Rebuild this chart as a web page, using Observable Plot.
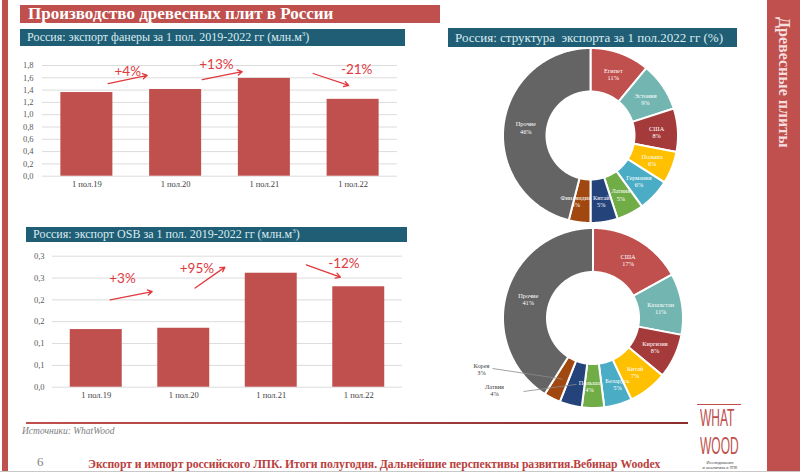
<!DOCTYPE html>
<html><head><meta charset="utf-8">
<script src="https://cdn.jsdelivr.net/npm/d3@7"></script>
<script src="https://cdn.jsdelivr.net/npm/@observablehq/plot@0.6"></script>
<style>
html,body{margin:0;padding:0;background:#fff;}
#slide{position:relative;width:800px;height:475px;overflow:hidden;background:#fff;font-family:"Liberation Serif",serif;}
.abs{position:absolute;}
.bar-red{background:#c0504d;color:#fff;font-weight:bold;font-size:17px;line-height:18px;white-space:nowrap;box-sizing:border-box;padding-left:8px;}
.bar-teal{background:#1f5e74;color:#dcecf2;font-size:12px;white-space:nowrap;box-sizing:border-box;padding-left:7px;}
.logo{font-family:'Liberation Sans',sans-serif;font-size:24px;line-height:24px;height:24px;color:#c0504d;transform:scaleX(0.5);transform-origin:left top;white-space:nowrap;}
svg{display:block;overflow:visible;}
</style></head>
<body><div id="slide">
  <div class="abs" style="left:2px;top:0;width:6px;height:471px;background:#c0504d"></div>
  <div class="abs" style="left:767px;top:0;width:33px;height:471px;background:#c0504d"></div>
  <div class="abs" style="left:775px;top:17px;writing-mode:vertical-rl;font-weight:bold;font-size:16px;color:#f4dede;white-space:nowrap;">Древесные плиты</div>
  <div class="abs" style="left:0;top:471px;width:800px;height:1px;background:#c8c8c8"></div>

  <div class="abs bar-red" style="left:20px;top:5px;width:420px;height:18px;">Производство древесных плит в России</div>
  <div class="abs bar-teal" style="left:20px;top:29px;width:385px;height:17px;line-height:17px;">Россия: экспорт фанеры за 1 пол. 2019-2022 гг (млн.м<sup style="font-size:7px;vertical-align:5px;line-height:0">3</sup>)</div>
  <div class="abs bar-teal" style="left:26px;top:227px;width:381px;height:15px;line-height:15px;">Россия: экспорт OSB за 1 пол. 2019-2022 гг (млн.м<sup style="font-size:7px;vertical-align:5px;line-height:0">3</sup>)</div>
  <div class="abs bar-teal" style="left:448px;top:28px;width:289px;height:19px;line-height:19px;font-size:13px;">Россия: структура&nbsp; экспорта за 1 пол.2022 гг (%)</div>

  <div id="ply" class="abs" style="left:0;top:50px;"></div>
  <div id="osb" class="abs" style="left:0;top:245px;"></div>
  <div id="pie1" class="abs" style="left:500px;top:46px;"></div>
  <div id="pie2" class="abs" style="left:440px;top:225px;"></div>

  <div class="abs" style="left:26px;top:422px;width:662px;height:2px;background:linear-gradient(to right,#c0504d,#8a2e2e)"></div>
  <div class="abs" style="left:22px;top:426px;font-style:italic;font-size:9.5px;color:#808080;">Источники: WhatWood</div>
  <div class="abs" style="left:37px;top:454px;font-size:13px;color:#7f7f7f;">6</div>
  <div class="abs" style="left:88px;top:458px;font-size:11.7px;font-weight:bold;color:#b9403d;white-space:nowrap;letter-spacing:-0.05px;">Экспорт и импорт российского ЛПК. Итоги полугодия. Дальнейшие перспективы развития.Вебинар Woodex</div>

  <div class="abs" style="left:697px;top:404px;width:44px;height:1px;background:#c0504d"></div>
  <div class="abs logo" style="left:700px;top:406px;">WHAT</div>
  <div class="abs logo" style="left:700px;top:434px;">WOOD</div>
  <div class="abs" style="left:699px;top:461px;font-family:'Liberation Sans',sans-serif;font-size:4px;line-height:4.5px;color:#444;text-align:center;width:42px;">Исследования<br>и аналитика в ЛПК</div>
</div>
<script>
// ---- data ----
const periods = ["1 пол.19", "1 пол.20", "1 пол.21", "1 пол.22"];
const plywoodExport = [1.36, 1.41, 1.59, 1.25];
const osbExport = [0.132, 0.135, 0.261, 0.230];
const plyTicks = [0, 0.2, 0.4, 0.6, 0.8, 1.0, 1.2, 1.4, 1.6, 1.8];
const plyTickLabels = ["0,0", "0,2", "0,4", "0,6", "0,8", "1,0", "1,2", "1,4", "1,6", "1,8"];
const osbTicks = [0, 0.05, 0.1, 0.15, 0.2, 0.25, 0.3];
const osbTickLabels = ["0,0", "0,1", "0,1", "0,2", "0,2", "0,3", "0,3"];
const plyChanges = ["+4%", "+13%", "-21%"];
const osbChanges = ["+3%", "+95%", "-12%"];
// annotation placement (data space: x = bar index, y = value)
const plyNotes = [
  {tx: 0.46, ty: 1.70, x1: 0.24, y1: 1.507, x2: 0.68, y2: 1.64},
  {tx: 1.46, ty: 1.82, x1: 1.30, y1: 1.57, x2: 1.75, y2: 1.70},
  {tx: 3.04, ty: 1.735, x1: 2.55, y1: 1.67, x2: 2.95, y2: 1.475}
];
const osbNotes = [
  {tx: 0.30, ty: 0.249, x1: 0.16, y1: 0.200, x2: 0.64, y2: 0.219},
  {tx: 1.15, ty: 0.272, x1: 1.13, y1: 0.227, x2: 1.47, y2: 0.275},
  {tx: 2.83, ty: 0.283, x1: 2.40, y1: 0.280, x2: 2.79, y2: 0.252}
];

const exportCountries = ["Египет", "Эстония", "США", "Польша", "Германия", "Латвия", "Китай", "Финляндия", "Прочие"];
const exportShares = [11, 9, 8, 6, 6, 5, 5, 4, 46];
const osbCountries = ["США", "Казахстан", "Киргизия", "Китай", "Беларусь", "Польша", "Латвия", "Корея", "Прочие"];
const osbShares = [17, 11, 8, 7, 5, 4, 4, 3, 41];
const palette = ["#c0504d", "#72b5b1", "#a53a3b", "#ffc000", "#4bacc6", "#70ad47", "#24437a", "#a0480f", "#646464"];
const osbOutside = [
  {name: "Корея", lx: -112, ly: -51, sx: -101, sy: -50},
  {name: "Латвия", lx: -99, ly: -72, sx: -70, sy: -73}
];
// small horizontal nudges so neighbouring slice labels do not collide
const exportNudge = {"Финляндия": -7};
const osbNudge = {"Польша": -4, "Беларусь": 5};

const RED = "#e0393e";
const serif = "Liberation Serif";

function barChart(el, values, ticks, tickLabels, changes, notes, opts) {
  const rows = values.map((v, i) => ({i, v, label: periods[i]}));
  const hw = opts.halfWidth;
  const chart = Plot.plot({
    width: opts.width, height: opts.height,
    marginLeft: opts.ml, marginRight: opts.mr, marginTop: opts.mt, marginBottom: opts.mb,
    style: {background: "transparent", fontFamily: serif, overflow: "visible"},
    x: {domain: [-0.5, 3.5], axis: null},
    y: {domain: opts.yDomain, axis: null},
    marks: [
      Plot.ruleY(ticks, {stroke: "#dcdcdc", strokeWidth: 1}),
      Plot.rectY(rows, {x1: d => d.i - hw, x2: d => d.i + hw, y1: 0, y2: "v", fill: "#c0504d"}),
      Plot.axisY({ticks, tickFormat: d => tickLabels[ticks.indexOf(d)], tickSize: 0, tickPadding: opts.tp, fontSize: 8.5, fill: "#595959", label: null}),
      Plot.axisX({ticks: [0, 1, 2, 3], tickFormat: d => periods[d], tickSize: 0, tickPadding: 5, fontSize: 8.5, fill: "#404040", label: null}),
      Plot.arrow(notes, {x1: "x1", y1: "y1", x2: "x2", y2: "y2", stroke: RED, strokeWidth: 1.3, headLength: 6}),
      Plot.text(notes, {x: "tx", y: "ty", text: (d, i) => changes[i], fill: RED, fontSize: 13.5, fontFamily: "Lato"})
    ]
  });
  document.getElementById(el).appendChild(chart);
}

barChart("ply", plywoodExport, plyTicks, plyTickLabels, plyChanges, plyNotes,
  {width: 410, height: 145, ml: 42, mr: 13, mt: 15, mb: 19.3, tp: 9, yDomain: [0, 1.8], halfWidth: 0.293});
barChart("osb", osbExport, osbTicks, osbTickLabels, osbChanges, osbNotes,
  {width: 415, height: 165, ml: 52, mr: 13, mt: 10.7, mb: 23.3, tp: 8, yDomain: [0, 0.3], halfWidth: 0.297});

function donut(el, names, shares, R, r, xDomain, yDomain, w, h, outside, nudge) {
  const pie = d3.pie().sort(null).value(d => d)(shares);
  const pts = [];
  const labels = [];
  pie.forEach((p, i) => {
    const n = Math.max(2, Math.ceil((p.endAngle - p.startAngle) / 0.01));
    for (let k = 0; k <= n; ++k) {
      const a = p.startAngle + (p.endAngle - p.startAngle) * k / n;
      pts.push({name: names[i], xo: R * Math.sin(a), yo: R * Math.cos(a), xi: r * Math.sin(a), yi: r * Math.cos(a)});
    }
    const m = (p.startAngle + p.endAngle) / 2, rm = (R + r) / 2;
    labels.push({name: names[i], share: shares[i], x: rm * Math.sin(m), y: rm * Math.cos(m), dx: nudge[names[i]] || 0});
  });
  const outNames = outside.map(d => d.name);
  const inside = labels.filter(d => !outNames.includes(d.name));
  const outs = outside.map(o => ({...o, ...labels.find(l => l.name === o.name)}));
  const chart = Plot.plot({
    width: w, height: h, margin: 0,
    style: {background: "transparent", fontFamily: serif, overflow: "visible"},
    x: {domain: xDomain, axis: null},
    y: {domain: yDomain, axis: null},
    color: {domain: names, range: palette},
    marks: [
      Plot.area(pts, {x1: "xo", y1: "yo", x2: "xi", y2: "yi", z: "name", fill: "name", stroke: "white", strokeWidth: 2}),
      Plot.text(inside, {x: d => d.x + d.dx, y: "y", text: d => d.name + "\n" + d.share + "%", fill: "white", fontSize: 6.3, lineHeight: 1.15}),
      Plot.link(outs, {x1: "sx", y1: "sy", x2: "x", y2: "y", stroke: "#8a8a8a", strokeWidth: 0.8}),
      Plot.text(outs, {x: "lx", y: "ly", text: d => d.name + "\n" + d.share + "%", fill: "#404040", fontSize: 6.3, lineHeight: 1.15})
    ]
  });
  document.getElementById(el).appendChild(chart);
}

donut("pie1", exportCountries, exportShares, 87.5, 44, [-90.5, 91.5], [-90.5, 89.5], 182, 180, [], exportNudge);
donut("pie2", osbCountries, osbShares, 90, 46, [-153, 97], [-94, 93], 250, 187, osbOutside, osbNudge);
</script>
</body></html>
